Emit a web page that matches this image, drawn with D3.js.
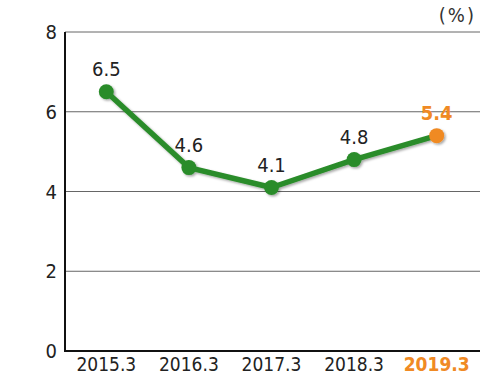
<!DOCTYPE html>
<html><head><meta charset="utf-8">
<script src="https://cdn.jsdelivr.net/npm/d3@7"></script>
<style>html,body{margin:0;padding:0;background:#fff;}</style>
</head><body>
<svg id="c" width="480" height="376"></svg>
<script>
const categories = ["2015.3","2016.3","2017.3","2018.3","2019.3"];
const values = [6.5, 4.6, 4.1, 4.8, 5.4];
const yTicks = [0, 2, 4, 6, 8];
const unitLabel = "(%)";

const W = 480, H = 376;
const m = {left: 65, right: 2, top: 32, bottom: 25};
const svg = d3.select("#c");
const font = "'DejaVu Sans Condensed', 'Liberation Sans Narrow', sans-serif";
const green = "#2a8c2a", orange = "#f08a24";

const x = d3.scaleBand().domain(categories).range([m.left, 478]);
const y = d3.scaleLinear().domain([0, 8]).range([H - m.bottom, m.top]);

const defs = svg.append("defs");
const f = defs.append("filter").attr("id","sh").attr("x","-20%").attr("y","-20%").attr("width","140%").attr("height","140%");
f.append("feDropShadow").attr("dx",1.5).attr("dy",1.5).attr("stdDeviation",1.2).attr("flood-color","#000").attr("flood-opacity",0.35);

// gridlines
svg.append("g").selectAll("line").data(yTicks.filter(d => d > 0)).join("line")
  .attr("x1", m.left).attr("x2", W).attr("y1", d => y(d)).attr("y2", d => y(d))
  .attr("stroke", "#666").attr("stroke-width", 1);

// axes lines
svg.append("line").attr("x1", m.left).attr("x2", m.left).attr("y1", y(8)).attr("y2", y(0))
  .attr("stroke", "#111").attr("stroke-width", 2);
svg.append("line").attr("x1", m.left - 1).attr("x2", W).attr("y1", y(0)).attr("y2", y(0))
  .attr("stroke", "#111").attr("stroke-width", 2);

// y tick labels
svg.append("g").selectAll("text").data(yTicks).join("text")
  .attr("x", 57).attr("y", d => y(d)).attr("dy", "0.36em")
  .attr("text-anchor", "end").attr("font-family", font).attr("font-size", 20)
  .attr("fill", "#222").text(d => d);

// x tick labels
svg.append("g").selectAll("text").data(categories).join("text")
  .attr("x", d => x(d) + x.bandwidth() / 2).attr("y", 371)
  .attr("text-anchor", "middle").attr("font-family", font).attr("font-size", 19)
  .attr("font-weight", (d, i) => i === categories.length - 1 ? "bold" : "normal")
  .attr("fill", (d, i) => i === categories.length - 1 ? orange : "#222").text(d => d);

// unit
svg.append("text").attr("x", 476).attr("y", 22).attr("text-anchor", "end")
  .attr("font-family", font).attr("font-size", 20).attr("fill", "#333")
  .attr("letter-spacing", 2).text(unitLabel);

const data = categories.map((c, i) => ({c, v: values[i], i}));
const cx = d => x(d.c) + x.bandwidth() / 2;

const g = svg.append("g").attr("filter", "url(#sh)");
g.append("path").datum(data)
  .attr("d", d3.line().x(cx).y(d => y(d.v)))
  .attr("fill", "none").attr("stroke", green).attr("stroke-width", 5.5)
  .attr("stroke-linejoin", "round");
g.selectAll("circle").data(data).join("circle")
  .attr("cx", cx).attr("cy", d => y(d.v)).attr("r", 7.5)
  .attr("fill", d => d.i === data.length - 1 ? orange : green);

svg.append("g").selectAll("text").data(data).join("text")
  .attr("x", cx).attr("y", d => y(d.v) - 16)
  .attr("text-anchor", "middle").attr("font-family", font).attr("font-size", 20)
  .attr("font-weight", d => d.i === data.length - 1 ? "bold" : "normal")
  .attr("fill", d => d.i === data.length - 1 ? orange : "#222")
  .text(d => d.v.toFixed(1));
</script>
</body></html>
